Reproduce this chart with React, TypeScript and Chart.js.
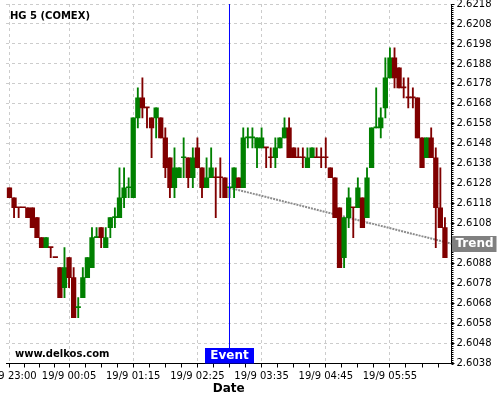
import React, { useEffect, useRef } from 'react';
import { Chart, registerables } from 'chart.js';

Chart.register(...registerables);

// 5-minute candles, index 0 = 18/9 23:00
const opens = [
  2.6126, 2.6121, 2.6116, 2.6116, 2.6116, 2.6116, 2.6111, 2.6101, 2.6096, 2.6096,
  2.6091, 2.6086, 2.6076, 2.6091, 2.6081, 2.6066, 2.6071, 2.6081, 2.6086, 2.6101,
  2.6106, 2.6096, 2.6106, 2.6111, 2.6111, 2.6121, 2.6126, 2.6121, 2.6161, 2.6171,
  2.6166, 2.6161, 2.6161, 2.6161, 2.6151, 2.6141, 2.6126, 2.6131, 2.6141, 2.6141,
  2.6131, 2.6146, 2.6136, 2.6126, 2.6131, 2.6131, 2.6131, 2.6131, 2.6126, 2.6126,
  2.6131, 2.6126, 2.6151, 2.6151, 2.6146, 2.6146, 2.6146, 2.6141, 2.6141, 2.6146,
  2.6151, 2.6156, 2.6146, 2.6141, 2.6141, 2.6136, 2.6141, 2.6141, 2.6141, 2.6141,
  2.6136, 2.6131, 2.6116, 2.6091, 2.6111, 2.6116, 2.6116, 2.6121, 2.6111, 2.6136,
  2.6156, 2.6156, 2.6166, 2.6181, 2.6191, 2.6186, 2.6176, 2.6171, 2.6171, 2.6171,
  2.6151, 2.6141, 2.6151, 2.6141, 2.6116, 2.6106,
];
const highs = [
  2.6126, 2.6121, 2.6116, 2.6116, 2.6116, 2.6116, 2.6111, 2.6101, 2.6101, 2.6096,
  2.6091, 2.6086, 2.6096, 2.6091, 2.6086, 2.6071, 2.6086, 2.6091, 2.6106, 2.6106,
  2.6106, 2.6106, 2.6111, 2.6116, 2.6136, 2.6136, 2.6131, 2.6161, 2.6176, 2.6181,
  2.6166, 2.6161, 2.6166, 2.6161, 2.6156, 2.6141, 2.6146, 2.6136, 2.6151, 2.6141,
  2.6146, 2.6151, 2.6136, 2.6141, 2.6146, 2.6136, 2.6141, 2.6131, 2.6126, 2.6136,
  2.6131, 2.6156, 2.6156, 2.6156, 2.6151, 2.6156, 2.6146, 2.6146, 2.6151, 2.6151,
  2.6161, 2.6161, 2.6146, 2.6146, 2.6146, 2.6146, 2.6146, 2.6146, 2.6146, 2.6151,
  2.6136, 2.6131, 2.6116, 2.6111, 2.6126, 2.6116, 2.6131, 2.6121, 2.6136, 2.6156,
  2.6176, 2.6166, 2.6191, 2.6196, 2.6196, 2.6186, 2.6181, 2.6181, 2.6176, 2.6171,
  2.6151, 2.6151, 2.6156, 2.6146, 2.6136, 2.6111,
];
const lows = [
  2.6121, 2.6111, 2.6111, 2.6116, 2.6111, 2.6106, 2.6101, 2.6096, 2.6096, 2.6091,
  2.6091, 2.6071, 2.6071, 2.6076, 2.6061, 2.6061, 2.6071, 2.6081, 2.6086, 2.6101,
  2.6096, 2.6096, 2.6101, 2.6106, 2.6111, 2.6116, 2.6121, 2.6121, 2.6156, 2.6161,
  2.6156, 2.6141, 2.6151, 2.6151, 2.6131, 2.6121, 2.6121, 2.6131, 2.6131, 2.6126,
  2.6126, 2.6136, 2.6121, 2.6126, 2.6131, 2.6111, 2.6121, 2.6121, 2.6121, 2.6121,
  2.6126, 2.6126, 2.6146, 2.6146, 2.6136, 2.6146, 2.6136, 2.6136, 2.6136, 2.6146,
  2.6151, 2.6141, 2.6141, 2.6141, 2.6136, 2.6136, 2.6141, 2.6141, 2.6136, 2.6136,
  2.6131, 2.6111, 2.6086, 2.6086, 2.6106, 2.6101, 2.6116, 2.6106, 2.6111, 2.6136,
  2.6156, 2.6151, 2.6161, 2.6181, 2.6176, 2.6176, 2.6171, 2.6166, 2.6166, 2.6151,
  2.6136, 2.6141, 2.6141, 2.6096, 2.6106, 2.6091,
];
const closes = [
  2.6121, 2.6116, 2.6116, 2.6116, 2.6111, 2.6106, 2.6101, 2.6096, 2.6101, 2.6096,
  2.6091, 2.6071, 2.6086, 2.6081, 2.6061, 2.6066, 2.6081, 2.6091, 2.6101, 2.6101,
  2.6101, 2.6101, 2.6111, 2.6111, 2.6121, 2.6126, 2.6126, 2.6161, 2.6171, 2.6166,
  2.6166, 2.6156, 2.6166, 2.6151, 2.6136, 2.6126, 2.6136, 2.6136, 2.6141, 2.6131,
  2.6141, 2.6136, 2.6126, 2.6131, 2.6136, 2.6131, 2.6131, 2.6121, 2.6126, 2.6136,
  2.6126, 2.6151, 2.6151, 2.6151, 2.6151, 2.6151, 2.6146, 2.6141, 2.6146, 2.6151,
  2.6156, 2.6141, 2.6141, 2.6141, 2.6141, 2.6141, 2.6146, 2.6141, 2.6141, 2.6141,
  2.6131, 2.6111, 2.6086, 2.6111, 2.6121, 2.6116, 2.6126, 2.6106, 2.6131, 2.6156,
  2.6156, 2.6161, 2.6181, 2.6191, 2.6181, 2.6176, 2.6176, 2.6171, 2.6171, 2.6151,
  2.6136, 2.6151, 2.6141, 2.6116, 2.6106, 2.6091,
];

const priceTicks = [
  2.6038, 2.6048, 2.6058, 2.6068, 2.6078, 2.6088, 2.6098, 2.6108, 2.6118, 2.6128,
  2.6138, 2.6148, 2.6158, 2.6168, 2.6178, 2.6188, 2.6198, 2.6208, 2.6218,
];
const timeTickIndex = [0, 13, 27, 41, 55, 69, 83];
const timeTickLabels = [
  '18/9 23:00', '19/9 00:05', '19/9 01:15', '19/9 02:25', '19/9 03:35', '19/9 04:45', '19/9 05:55',
];
const minorTimeTickIndex = [
  3.25, 6.5, 9.75, 16.5, 20, 23.5, 30.5, 34, 37.5, 44.5, 48, 51.5,
  58.5, 62, 65.5, 72.5, 76, 79.5, 86.5, 90, 93.5,
];
const eventIndex = 48;
const trendIndex = [48, 96.43];
const trendValues = [2.6126, 2.6098];

const Y_MIN = 2.6038;
const Y_MAX = 2.6218;
const X_MIN = -0.757;
const X_MAX = 96.43;

const UP = '#008000';
const DOWN = '#800000';
const FONT = '"DejaVu Sans", sans-serif';

function candleColors(): string[] {
  const up: boolean[] = [];
  for (let i = 0; i < opens.length; i++) {
    const o = opens[i];
    const c = closes[i];
    let u: boolean;
    if (c > o) u = true;
    else if (c < o) u = false;
    else {
      const pc = i > 0 ? closes[i - 1] : c;
      if (c > pc) u = true;
      else if (c < pc) u = false;
      else u = i > 0 ? up[i - 1] : false;
    }
    up.push(u);
  }
  return up.map((u) => (u ? UP : DOWN));
}

const overlayPlugin = {
  id: 'overlay',
  afterDraw(chart: any) {
    const { ctx, chartArea, scales } = chart;
    const xs = scales.x;
    const ys = scales.y;
    ctx.save();
    // minor ticks on price axis
    ctx.strokeStyle = '#000';
    ctx.lineWidth = 1;
    ctx.beginPath();
    for (let k = 0; k <= 180; k++) {
      const py = Math.round(ys.getPixelForValue(Y_MIN + k * 0.0001)) + 0.5;
      ctx.moveTo(chartArea.right, py);
      ctx.lineTo(chartArea.right + 2, py);
    }
    ctx.stroke();

    ctx.fillStyle = '#000';
    ctx.font = `bold 10px ${FONT}`;
    ctx.textAlign = 'left';
    ctx.textBaseline = 'alphabetic';
    ctx.fillText('HG 5 (COMEX)', 10, 19);
    ctx.fillText('www.delkos.com', 15, 357);

    // event label
    const ex = Math.floor(xs.getPixelForValue(eventIndex));
    ctx.fillStyle = '#0000ff';
    ctx.fillRect(ex - 24, chartArea.bottom - 15.5, 49, 15.5);
    ctx.fillStyle = '#fff';
    ctx.font = `bold 12px ${FONT}`;
    ctx.textAlign = 'center';
    ctx.textBaseline = 'middle';
    ctx.fillText('Event', ex + 0.5, chartArea.bottom - 7.5);

    // trend label
    const ty = ys.getPixelForValue(trendValues[1]);
    ctx.fillStyle = '#808080';
    ctx.fillRect(chartArea.right + 0.5, Math.round(ty) - 8, 44.5, 16);
    ctx.fillStyle = '#fff';
    ctx.fillText('Trend', chartArea.right + 23, Math.round(ty));
    ctx.restore();
  },
};

export default function App() {
  const ref = useRef<HTMLCanvasElement | null>(null);

  useEffect(() => {
    document.body.style.margin = '0';
    const canvas = ref.current;
    if (!canvas) return;
    Chart.defaults.font.family = FONT;
    Chart.defaults.color = '#000';

    const colors = candleColors();
    const idx = opens.map((_, i) => i);
    const wickData = idx.map((i) => ({ x: i, y: [lows[i], highs[i]] }));
    const bodyData = idx.map((i) => ({ x: i, y: [opens[i], closes[i]] }));
    const trendData = trendIndex.map((x, i) => ({ x, y: trendValues[i] }));
    const eventData = [
      { x: eventIndex, y: Y_MIN },
      { x: eventIndex, y: Y_MAX },
    ];

    const allTicks = [
      ...timeTickIndex.map((v) => ({ value: v, major: true })),
      ...minorTimeTickIndex.map((v) => ({ value: v, major: false })),
    ].sort((a, b) => a.value - b.value);

    const chart = new Chart(canvas, {
      type: 'bar',
      data: {
        datasets: [
          {
            type: 'line',
            data: eventData,
            borderColor: '#0000ff',
            borderWidth: 1,
            pointRadius: 0,
            order: 0,
          } as any,
          {
            type: 'bar',
            data: bodyData,
            backgroundColor: colors,
            barThickness: 4.6,
            minBarLength: 1,
            grouped: false,
            order: 1,
          } as any,
          {
            type: 'bar',
            data: wickData,
            backgroundColor: colors,
            barThickness: 1.2,
            grouped: false,
            order: 2,
          } as any,
          {
            type: 'line',
            data: trendData,
            borderColor: '#8c8c8c',
            borderWidth: 2,
            borderDash: [2, 1],
            pointRadius: 0,
            order: 3,
          } as any,
        ],
      },
      options: {
        animation: false,
        responsive: false,
        devicePixelRatio: 1,
        layout: { padding: { left: 6, top: 4, right: 0, bottom: 0 } },
        plugins: {
          legend: { display: false },
          tooltip: { enabled: false },
        },
        scales: {
          x: {
            type: 'linear',
            min: X_MIN,
            max: X_MAX,
            offset: false,
            grid: {
              offset: false,
              color: (c: any) => (c.tick && c.tick.major ? '#cccccc' : 'rgba(0,0,0,0)'),
              tickColor: '#000',
              tickLength: 4,
            },
            border: { display: true, color: '#000', dash: [3, 3] },
            ticks: {
              autoSkip: false,
              maxRotation: 0,
              padding: 3,
              font: { size: 10 },
              color: '#000',
              callback: (v: any) => {
                const k = timeTickIndex.indexOf(Number(v));
                return k >= 0 ? timeTickLabels[k] : '';
              },
            },
            title: {
              display: true,
              text: 'Date',
              color: '#000',
              font: { size: 12, weight: 'bold' },
              padding: { top: 0, bottom: 4 },
            },
            afterBuildTicks: (s: any) => {
              s.ticks = allTicks.map((t) => ({ ...t }));
            },
            afterFit: (s: any) => {
              s.height = 36.5;
              s.paddingLeft = 0;
              s.paddingRight = 0;
            },
          } as any,
          y: {
            type: 'linear',
            position: 'right',
            min: Y_MIN,
            max: Y_MAX,
            beginAtZero: false,
            grid: {
              color: '#cccccc',
              tickColor: '#000',
              tickLength: 3,
            },
            border: { display: true, color: '#000', dash: [3, 3] },
            ticks: {
              padding: 2,
              font: { size: 10 },
              color: '#000',
              callback: (v: any) => Number(v).toFixed(4),
            },
            afterBuildTicks: (s: any) => {
              s.ticks = priceTicks.map((v) => ({ value: v }));
            },
            afterFit: (s: any) => {
              s.width = 48.5;
              s.paddingTop = 0;
              s.paddingBottom = 0;
            },
          } as any,
        },
      },
      plugins: [overlayPlugin],
    });

    return () => chart.destroy();
  }, []);

  return <canvas ref={ref} width={500} height={400} style={{ display: 'block' }} />;
}
